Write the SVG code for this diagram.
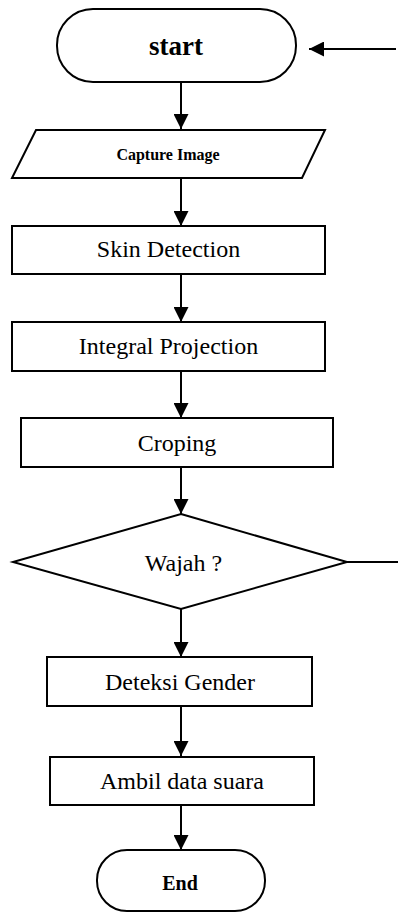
<svg xmlns="http://www.w3.org/2000/svg" width="398" height="913" viewBox="0 0 398 913">
<defs>
<marker id="ah" markerWidth="15" markerHeight="15" viewBox="0 0 15 15" refX="15" refY="7.5" orient="auto" markerUnits="userSpaceOnUse">
<path d="M0,0 L15,7.5 L0,15 Z" fill="#000"/>
</marker>
<style>
.sh{fill:#fff;stroke:#000;stroke-width:2}
.t{font-family:"Liberation Serif","Times New Roman",serif;font-size:24px;fill:#000;text-anchor:middle}
.b{font-weight:bold}
.c{stroke:#000;stroke-width:2;fill:none}
</style>
</defs>
<rect width="398" height="913" fill="#fff"/>
<g id="connectors">
<line class="c" x1="396" y1="49" x2="309" y2="49" marker-end="url(#ah)"/>
<line class="c" x1="181" y1="82" x2="181" y2="129" marker-end="url(#ah)"/>
<line class="c" x1="181" y1="178" x2="181" y2="226" marker-end="url(#ah)"/>
<line class="c" x1="181" y1="274" x2="181" y2="322" marker-end="url(#ah)"/>
<line class="c" x1="181" y1="371" x2="181" y2="418" marker-end="url(#ah)"/>
<line class="c" x1="181" y1="467" x2="181" y2="514" marker-end="url(#ah)"/>
<line class="c" x1="181" y1="609" x2="181" y2="657" marker-end="url(#ah)"/>
<line class="c" x1="181" y1="706" x2="181" y2="756" marker-end="url(#ah)"/>
<line class="c" x1="181" y1="803" x2="181" y2="850" marker-end="url(#ah)"/>
<line class="c" x1="347" y1="562" x2="398" y2="562"/>
</g>
<g id="start">
<rect class="sh" x="57" y="9" width="239" height="73" rx="36" ry="36"/>
<text class="t b" x="176" y="55" font-size="27" style="font-size:27px">start</text>
</g>
<g id="capture">
<polygon class="sh" points="36,130 325,130 302,178 12,178"/>
<text class="t b" x="168" y="160" style="font-size:16px">Capture Image</text>
</g>
<g id="skin">
<rect class="sh" x="12" y="226" width="313" height="48"/>
<text class="t" x="168.5" y="257">Skin Detection</text>
</g>
<g id="integral">
<rect class="sh" x="12" y="322" width="313" height="49"/>
<text class="t" x="168.5" y="354">Integral Projection</text>
</g>
<g id="croping">
<rect class="sh" x="21" y="418" width="312" height="49"/>
<text class="t" x="177" y="451">Croping</text>
</g>
<g id="wajah">
<polygon class="sh" points="181,514 347,562 181,609 13,562"/>
<text class="t" x="183.5" y="571">Wajah ?</text>
</g>
<g id="gender">
<rect class="sh" x="47" y="657" width="265" height="49"/>
<text class="t" x="180" y="690">Deteksi Gender</text>
</g>
<g id="ambil">
<rect class="sh" x="50" y="757" width="264" height="48"/>
<text class="t" x="182" y="789">Ambil data suara</text>
</g>
<g id="end">
<rect class="sh" x="97" y="850" width="168" height="61" rx="30" ry="30"/>
<text class="t b" x="180" y="890" style="font-size:20px">End</text>
</g>
</svg>
